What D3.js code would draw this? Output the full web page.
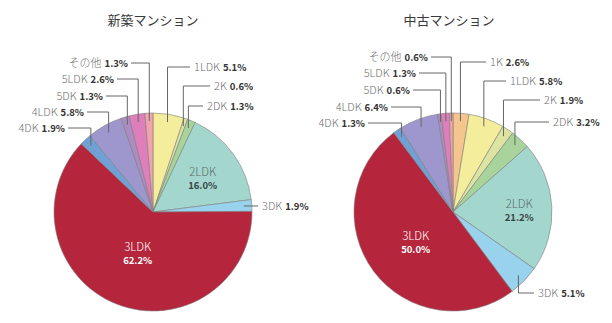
<!DOCTYPE html>
<html>
<head>
<meta charset="utf-8">
<script src="https://cdn.jsdelivr.net/npm/d3@7"></script>
<style>
  html, body { margin: 0; padding: 0; background: #fff; }
  svg { display: block; font-family: "Noto Sans CJK JP", "Noto Sans", sans-serif; }
</style>
</head>
<body>
<svg id="chart" width="612" height="323"></svg>
<script>
// ---- data ----
const titles = ["新築マンション", "中古マンション"];
const newCategories = ["1LDK", "2K", "2DK", "2LDK", "3DK", "3LDK", "4DK", "4LDK", "5DK", "5LDK", "その他"];
const newValues = [5.1, 0.6, 1.3, 16.0, 1.9, 62.2, 1.9, 5.8, 1.3, 2.6, 1.3];
const usedCategories = ["1K", "1LDK", "2K", "2DK", "2LDK", "3DK", "3LDK", "4DK", "4LDK", "5DK", "5LDK", "その他"];
const usedValues = [2.6, 5.8, 1.9, 3.2, 21.2, 5.1, 50.0, 1.3, 6.4, 0.6, 1.3, 0.6];
const colorCategories = ["1K", "1LDK", "2K", "2DK", "2LDK", "3DK", "3LDK", "4DK", "4LDK", "5DK", "5LDK", "その他"];
const colorValues = ["#f4c68e", "#f4ee9c", "#dde4a2", "#a8d49c", "#a3d7cd", "#98d2ec", "#b5253b", "#6fa1d7", "#9d97cd", "#ad8bc3", "#de7fbc", "#f3a3ab"];

// ---- layout (label placement only) ----
const newLayout = {
  cx: 153, cy: 212, r: 99, titleX: 153,
  labels: {
    "1LDK": {y: 67, lx: 190, side: "R"},
    "2K": {y: 86, lx: 210, side: "R"},
    "2DK": {y: 106, lx: 203, side: "R"},
    "2LDK": {inside: 0.62, dark: true},
    "3DK": {y: null, lx: 258, side: "R"},
    "3LDK": {inside: 0.42, dark: false},
    "4DK": {y: 128, lx: 68, side: "L"},
    "4LDK": {y: 112, lx: 87, side: "L"},
    "5DK": {y: 96, lx: 106, side: "L"},
    "5LDK": {y: 79, lx: 117, side: "L"},
    "その他": {y: 63, lx: 131, side: "L"}
  }
};
const usedLayout = {
  cx: 453, cy: 212, r: 99, titleX: 449,
  labels: {
    "1K": {y: 62, lx: 486, side: "R"},
    "1LDK": {y: 81, lx: 506, side: "R"},
    "2K": {y: 100, lx: 540, side: "R"},
    "2DK": {y: 122, lx: 549, side: "R"},
    "2LDK": {inside: 0.67, dark: true},
    "3DK": {y: 293, lx: 534, side: "R"},
    "3LDK": {inside: 0.47, dark: false},
    "4DK": {y: 123, lx: 368, side: "L"},
    "4LDK": {y: 107, lx: 391, side: "L"},
    "5DK": {y: 90, lx: 413, side: "L"},
    "5LDK": {y: 73, lx: 419, side: "L"},
    "その他": {y: 57, lx: 431, side: "L"}
  }
};

const color = d3.scaleOrdinal().domain(colorCategories).range(colorValues);
const svg = d3.select("#chart");

function drawPie(title, cats, vals, layout) {
  const data = cats.map((c, i) => ({cat: c, v: vals[i]}));
  const pie = d3.pie().sort(null).value(d => d.v);
  const arcs = pie(data);
  const arc = d3.arc().innerRadius(0).outerRadius(layout.r);
  const g = svg.append("g").attr("transform", `translate(${layout.cx},${layout.cy})`);

  g.selectAll("path.slice").data(arcs).join("path")
    .attr("class", "slice")
    .attr("d", arc)
    .attr("fill", d => color(d.data.cat))
    .attr("stroke", "#7d7d7d")
    .attr("stroke-width", 0.6);

  svg.append("text")
    .attr("x", layout.titleX).attr("y", 25)
    .attr("text-anchor", "middle")
    .attr("font-size", 13).attr("font-weight", 400).attr("fill", "#3a3a3a")
    .text(title);

  const anchorR = layout.r * 0.92;
  arcs.forEach(a => {
    const L = layout.labels[a.data.cat];
    if (!L) return;
    const mid = (a.startAngle + a.endAngle) / 2;
    if (L.inside !== undefined) {
      const rr = layout.r * L.inside;
      const x = layout.cx + rr * Math.sin(mid);
      const y = layout.cy - rr * Math.cos(mid);
      const t = svg.append("text").attr("text-anchor", "middle");
      t.append("tspan").attr("x", x).attr("y", y)
        .attr("font-size", 11.5).attr("font-weight", 300)
        .attr("fill", L.dark ? "#5d6b6b" : "#fff")
        .text(a.data.cat);
      t.append("tspan").attr("x", x).attr("y", y + 13)
        .attr("font-size", 9.5).attr("font-weight", "bold")
        .attr("fill", L.dark ? "#3a4545" : "#fff")
        .text(a.data.v.toFixed(1) + "%");
      return;
    }
    const ax = layout.cx + anchorR * Math.sin(mid);
    const ay = layout.cy - anchorR * Math.cos(mid);
    const ly = L.y === null ? ay : L.y;
    svg.append("path")
      .attr("d", `M${ax},${ay}L${ax},${ly}L${L.lx},${ly}`)
      .attr("fill", "none").attr("stroke", "#666").attr("stroke-width", 1);
    const right = L.side === "R";
    const t = svg.append("text")
      .attr("x", right ? L.lx + 4 : L.lx - 3)
      .attr("y", ly + 4)
      .attr("text-anchor", right ? "start" : "end");
    t.append("tspan").attr("font-size", 11).attr("font-weight", 300)
      .attr("fill", "#707070").text(a.data.cat);
    t.append("tspan").attr("font-size", 9.5).attr("font-weight", "bold").attr("fill", "#333")
      .attr("dx", 3).text(a.data.v.toFixed(1) + "%");
  });
}

drawPie(titles[0], newCategories, newValues, newLayout);
drawPie(titles[1], usedCategories, usedValues, usedLayout);
</script>
</body>
</html>
